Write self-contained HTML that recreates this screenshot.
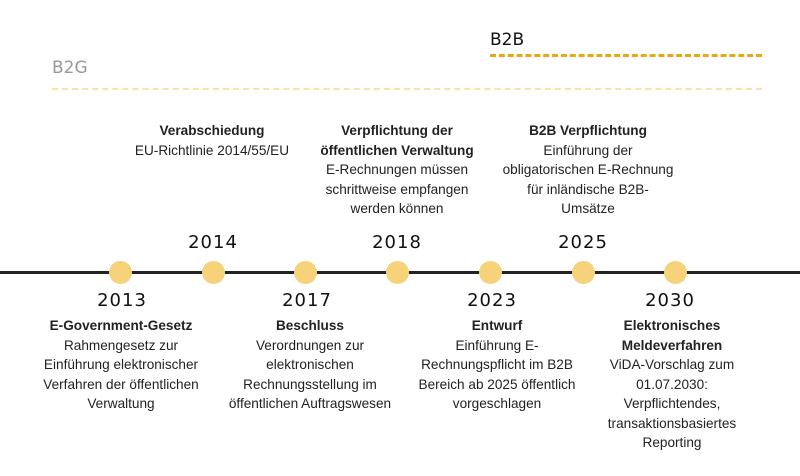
<!DOCTYPE html>
<html><head><meta charset="utf-8"><style>
body{margin:0;width:800px;height:476px;background:#fff;position:relative;overflow:hidden;font-family:"Liberation Sans",sans-serif;color:#222}
.t{position:absolute;text-align:center;font-size:13.6px;line-height:19.5px;width:220px;margin-left:-110px}
.t b{font-weight:bold}
.y{position:absolute;font-family:"DejaVu Sans",sans-serif;font-size:18px;width:80px;margin-left:-40px;text-align:center;color:#111;letter-spacing:1px}
.c{position:absolute;width:23px;height:23px;border-radius:50%;background:#f6d27a;top:261px;margin-left:-11.5px}
</style></head><body>
<div style="position:absolute;left:490px;top:30px;font-family:'DejaVu Sans',sans-serif;font-size:17px;color:#111">B2B</div>
<div style="position:absolute;left:490px;top:54px;width:272px;border-top:3px dashed #e6a817"></div>
<div style="position:absolute;left:52px;top:58px;font-family:'DejaVu Sans',sans-serif;font-size:17px;color:#999">B2G</div>
<div style="position:absolute;left:52px;top:88px;width:710px;border-top:2px dashed #f7e3a8"></div>
<div style="position:absolute;left:0;top:271px;width:800px;height:3px;background:#222"></div>
<div class="c" style="left:120px"></div><div class="c" style="left:213px"></div><div class="c" style="left:305px"></div><div class="c" style="left:397px"></div><div class="c" style="left:490px"></div><div class="c" style="left:583px"></div><div class="c" style="left:675px"></div>
<div class="y" style="left:213px;top:232px">2014</div>
<div class="y" style="left:397px;top:232px">2018</div>
<div class="y" style="left:583px;top:232px">2025</div>
<div class="y" style="left:122px;top:290px">2013</div>
<div class="y" style="left:307px;top:290px">2017</div>
<div class="y" style="left:492px;top:290px">2023</div>
<div class="y" style="left:670px;top:290px">2030</div>
<div class="t" style="left:212px;top:121px"><b>Verabschiedung</b><br>EU-Richtlinie 2014/55/EU</div>
<div class="t" style="left:397px;top:121px"><b>Verpflichtung der<br>öffentlichen Verwaltung</b><br>E-Rechnungen müssen<br>schrittweise empfangen<br>werden können</div>
<div class="t" style="left:588px;top:121px"><b>B2B Verpflichtung</b><br>Einführung der<br>obligatorischen E-Rechnung<br>für inländische B2B-<br>Umsätze</div>
<div class="t" style="left:121px;top:316px"><b>E-Government-Gesetz</b><br>Rahmengesetz zur<br>Einführung elektronischer<br>Verfahren der öffentlichen<br>Verwaltung</div>
<div class="t" style="left:310px;top:316px"><b>Beschluss</b><br>Verordnungen zur<br>elektronischen<br>Rechnungsstellung im<br>öffentlichen Auftragswesen</div>
<div class="t" style="left:497px;top:316px"><b>Entwurf</b><br>Einführung E-<br>Rechnungspflicht im B2B<br>Bereich ab 2025 öffentlich<br>vorgeschlagen</div>
<div class="t" style="left:672px;top:316px"><b>Elektronisches<br>Meldeverfahren</b><br>ViDA-Vorschlag zum<br>01.07.2030:<br>Verpflichtendes,<br>transaktionsbasiertes<br>Reporting</div>
</body></html>
